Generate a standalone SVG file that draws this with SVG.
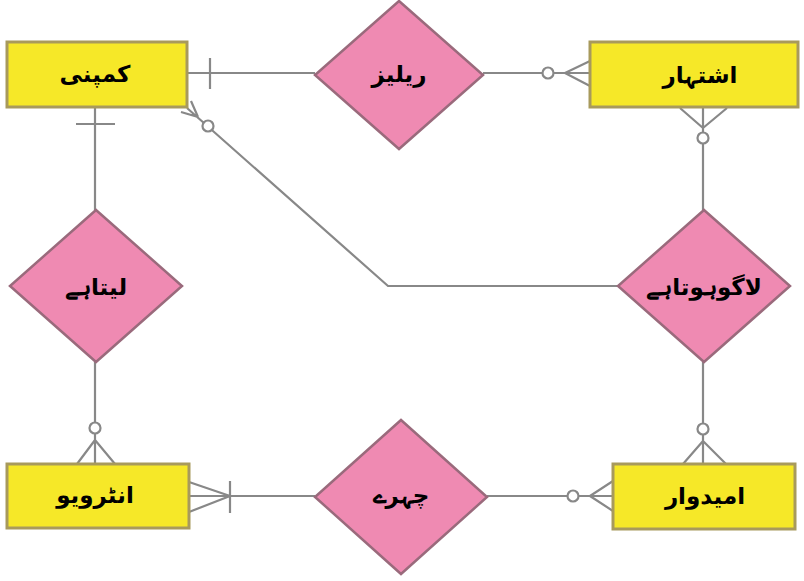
<svg xmlns="http://www.w3.org/2000/svg" width="804" height="581" viewBox="0 0 804 581">
  <style>
    .entity { fill: #f6e828; stroke: #a89a5c; stroke-width: 3; }
    .rel { fill: #ef8ab2; stroke: #9a6a7c; stroke-width: 2.5; }
    .label { font-family: "DejaVu Sans", "Noto Sans", sans-serif; font-size: 23px; font-weight: bold; fill: #000; text-anchor: middle; dominant-baseline: central; }
    .link { fill: none; stroke: #888888; stroke-width: 2.2; }
    .ring { fill: #ffffff; stroke: #888888; stroke-width: 2.2; }
  </style>
  <rect width="804" height="581" fill="#ffffff"/>

  <!-- connectors with cardinality marks -->
  <g id="connectors">
    <!-- company - release -->
    <path class="link" d="M187,73 H315 M210,58 V89"/>
    <!-- release - advert -->
    <path class="link" d="M483,73 H590 M565,73 L590,61 M565,73 L590,86"/>
    <circle class="ring" cx="548" cy="73" r="5.5"/>
    <!-- advert - applies -->
    <path class="link" d="M703,108 V210 M703,128 L680,108 M703,128 L727,108"/>
    <circle class="ring" cx="703" cy="138" r="5.5"/>
    <!-- applies - candidate -->
    <path class="link" d="M703,362 V464 M703,441 L683,464 M703,441 L726,464"/>
    <circle class="ring" cx="703" cy="429" r="5.5"/>
    <!-- applies - company -->
    <path class="link" d="M618,286 H388 L187,108 M198,117 L191,101 M198,117 L181,112"/>
    <circle class="ring" cx="208" cy="126" r="5.5"/>
    <!-- company - takes -->
    <path class="link" d="M95,108 V210 M76,124 H115"/>
    <!-- takes - interview -->
    <path class="link" d="M95,362 V464 M95,440 L77,464 M95,440 L115,464"/>
    <circle class="ring" cx="95" cy="428" r="5.5"/>
    <!-- interview - faces -->
    <path class="link" d="M189,496 H315 M230,496 L189,482 M230,496 L189,512 M230,481 V513"/>
    <!-- faces - candidate -->
    <path class="link" d="M487,496 H613 M590,496 L613,481 M590,496 L613,511"/>
    <circle class="ring" cx="573" cy="496" r="5.5"/>
  </g>

  <g id="company">
    <rect class="entity" x="7" y="42" width="180" height="65"/>
    <text class="label" x="95" y="74">کمپنی</text>
  </g>
  <g id="advert">
    <rect class="entity" x="590" y="42" width="208" height="65"/>
    <text class="label" x="700" y="75">اشتہار</text>
  </g>
  <g id="interview">
    <rect class="entity" x="7" y="464" width="182" height="64"/>
    <text class="label" x="95" y="495">انٹرویو</text>
  </g>
  <g id="candidate">
    <rect class="entity" x="613" y="464" width="182" height="65"/>
    <text class="label" x="705" y="496">امیدوار</text>
  </g>

  <g id="release">
    <polygon class="rel" points="399,1 483,75 399,149 315,75"/>
    <text class="label" x="399" y="74">ریلیز</text>
  </g>
  <g id="takes">
    <polygon class="rel" points="96,210 182,286 96,362 10,286"/>
    <text class="label" x="96" y="287">لیتاہے</text>
  </g>
  <g id="applies">
    <polygon class="rel" points="704,210 790,286 704,362 618,286"/>
    <text class="label" x="704" y="287">لاگوہوتاہے</text>
  </g>
  <g id="faces">
    <polygon class="rel" points="401,420 487,497 401,574 315,497"/>
    <text class="label" x="401" y="495">چہرے</text>
  </g>
</svg>
